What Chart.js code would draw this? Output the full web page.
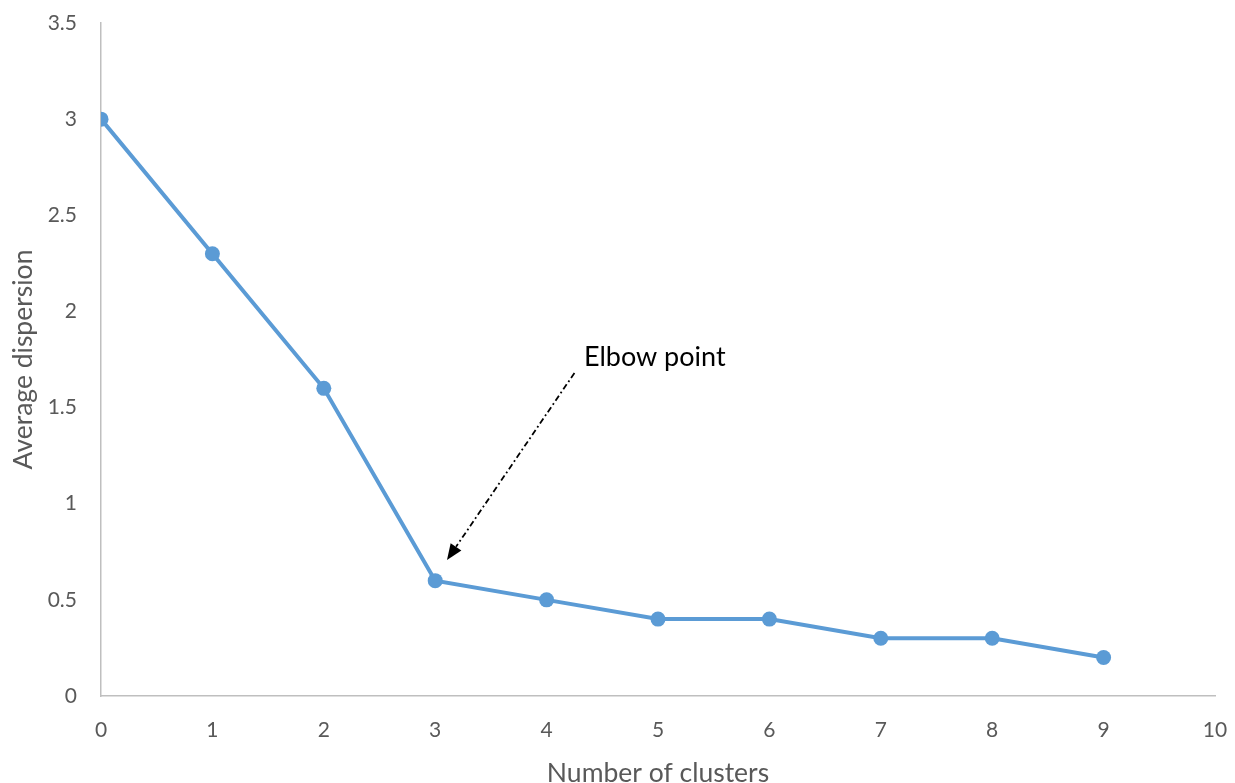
<!DOCTYPE html>
<html>
<head>
<meta charset="utf-8">
<script src="https://cdn.jsdelivr.net/npm/chart.js@4"></script>
<style>
html,body{margin:0;padding:0;background:#fff;overflow:hidden;}
#wrap{position:relative;width:1235px;height:783px;}
</style>
</head>
<body>
<div id="wrap"><canvas id="c" width="1235" height="783"></canvas></div>
<script>
const clusters = [0, 1, 2, 3, 4, 5, 6, 7, 8, 9];
const dispersion = [3, 2.3, 1.6, 0.6, 0.5, 0.4, 0.4, 0.3, 0.3, 0.2];
const xTitle = 'Number of clusters';
const yTitle = 'Average dispersion';
const annotationText = 'Elbow point';
const annotationTextAt = [4.335, 1.716];
const arrowFrom = [4.25, 1.68];
const arrowTo = [3.106, 0.707];

const FONT = 'Lato';
const points = clusters.map((x, i) => ({x: x, y: dispersion[i]}));

const annotationPlugin = {
  id: 'elbow',
  afterDatasetsDraw(chart) {
    const {ctx, scales: {x, y}} = chart;
    ctx.save();
    const x1 = x.getPixelForValue(arrowFrom[0]), y1 = y.getPixelForValue(arrowFrom[1]);
    const x2 = x.getPixelForValue(arrowTo[0]), y2 = y.getPixelForValue(arrowTo[1]);
    const ang = Math.atan2(y2 - y1, x2 - x1);
    const headLen = 16, headW = 6.5;
    const bx = x2 - headLen * Math.cos(ang), by = y2 - headLen * Math.sin(ang);
    ctx.strokeStyle = '#000';
    ctx.lineWidth = 1.8;
    ctx.setLineDash([6, 3, 1.8, 3]);
    ctx.beginPath();
    ctx.moveTo(x1, y1);
    ctx.lineTo(bx, by);
    ctx.stroke();
    ctx.setLineDash([]);
    ctx.fillStyle = '#000';
    ctx.beginPath();
    ctx.moveTo(x2, y2);
    ctx.lineTo(bx + headW * Math.sin(ang), by - headW * Math.cos(ang));
    ctx.lineTo(bx - headW * Math.sin(ang), by + headW * Math.cos(ang));
    ctx.closePath();
    ctx.fill();
    ctx.font = '27px ' + FONT;
    ctx.textAlign = 'left';
    ctx.textBaseline = 'alphabetic';
    ctx.fillText(annotationText, x.getPixelForValue(annotationTextAt[0]), y.getPixelForValue(annotationTextAt[1]));
    ctx.restore();
  }
};

new Chart(document.getElementById('c'), {
  type: 'line',
  data: {
    datasets: [{
      data: points,
      borderColor: '#5b9bd5',
      backgroundColor: '#5b9bd5',
      borderWidth: 4,
      pointRadius: 7.5,
      pointBorderWidth: 0,
      pointHoverRadius: 7.5,
      tension: 0,
      fill: false
    }]
  },
  options: {
    responsive: false,
    animation: false,
    events: [],
    layout: {padding: {top: 23, right: 20, left: 0, bottom: 0}},
    plugins: {legend: {display: false}, tooltip: {enabled: false}},
    scales: {
      x: {
        type: 'linear',
        min: 0, max: 10,
        ticks: {stepSize: 1, color: '#595959', font: {family: FONT, size: 21}, padding: 22, maxRotation: 0},
        grid: {display: false, drawTicks: false},
        border: {display: true, color: '#bfbfbf', width: 1.5},
        title: {display: true, text: xTitle, color: '#595959', font: {family: FONT, size: 26.5, lineHeight: 0.75}, padding: {top: 0, bottom: 0}},
        afterFit(s) { s.height = 87; s.paddingLeft = 0; s.paddingRight = 0; }
      },
      y: {
        min: 0, max: 3.5,
        ticks: {stepSize: 0.5, color: '#595959', font: {family: FONT, size: 21}, padding: 24,
                callback: v => String(v)},
        grid: {display: false, drawTicks: false},
        border: {display: true, color: '#bfbfbf', width: 1.5},
        title: {display: true, text: yTitle, color: '#595959', font: {family: FONT, size: 26.5, lineHeight: 1}, padding: {top: 10, bottom: 0}},
        afterFit(s) { s.width = 101; s.paddingTop = 0; s.paddingBottom = 0; }
      }
    }
  },
  plugins: [annotationPlugin]
});
</script>
</body>
</html>
